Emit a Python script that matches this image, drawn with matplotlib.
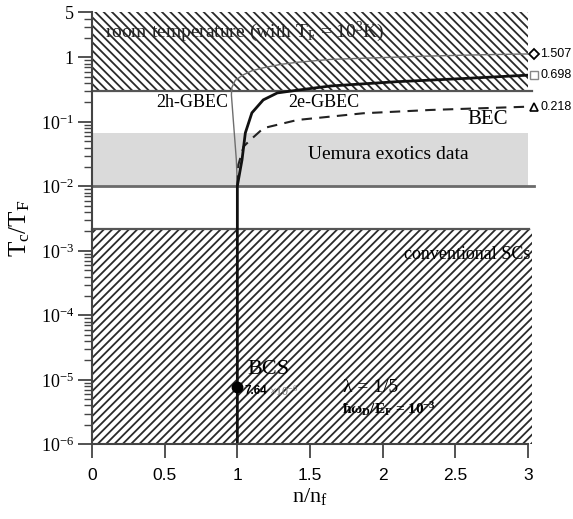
import matplotlib
matplotlib.use("Agg")
import matplotlib.pyplot as plt
from matplotlib.ticker import FixedLocator, LogLocator, NullFormatter

plt.rcParams['font.family'] = ['Liberation Serif', 'DejaVu Serif']
plt.rcParams['mathtext.fontset'] = 'custom'
plt.rcParams['mathtext.rm'] = 'Liberation Serif'
plt.rcParams['mathtext.it'] = 'Liberation Serif:italic'
plt.rcParams['mathtext.bf'] = 'Liberation Serif:bold'
plt.rcParams['hatch.linewidth'] = 1.3

# curves (n/nf, Tc/TF)
n_2e = [1.0, 1.0, 1.032, 1.055, 1.10, 1.178, 1.275, 1.413, 1.64, 2.1, 2.556, 3.0]
tc_2e = [1e-6, 0.0102, 0.0258, 0.0675, 0.138, 0.219, 0.281, 0.31, 0.36, 0.42, 0.47, 0.53]

n_2h = [1.0, 0.993, 0.972, 0.959, 0.962, 0.985, 1.04, 1.10, 1.18, 1.30, 1.413, 1.64, 1.867, 2.33, 2.7, 3.0]
tc_2h = [0.0102, 0.0258, 0.107, 0.262, 0.34, 0.44, 0.535, 0.62, 0.69, 0.78, 0.84, 0.93, 0.97, 1.05, 1.10, 1.13]

n_bec = [1.0, 1.007, 1.043, 1.09, 1.18, 1.413, 1.867, 2.33, 3.0]
tc_bec = [0.0102, 0.0216, 0.0415, 0.0526, 0.080, 0.107, 0.136, 0.153, 0.172]

# limit values marked at the right edge
limit_vals = ['1.507', '0.698', '0.218']

# shaded regions
room_lo, room_hi = 0.3, 5.0
uemura_lo, uemura_hi = 0.01, 0.067
conv_lo, conv_hi = 1e-6, 2.2e-3

bcs_n, bcs_tc = 1.0, 7.64e-6

yticks = [1e-6, 1e-5, 1e-4, 1e-3, 1e-2, 1e-1, 1, 5]
yticklabels = ['10$^{\\mathregular{-6}}$', '10$^{\\mathregular{-5}}$', '10$^{\\mathregular{-4}}$',
               '10$^{\\mathregular{-3}}$', '10$^{\\mathregular{-2}}$', '10$^{\\mathregular{-1}}$', '1', '5']
xticks = [0, 0.5, 1, 1.5, 2, 2.5, 3]
xticklabels = ['0', '0.5', '1', '1.5', '2', '2.5', '3']

fig = plt.figure(figsize=(5.73, 5.19), dpi=100)
ax = fig.add_axes([0.1606, 0.1439, 0.7609, 0.8324])
ax.set_yscale('log')
ax.set_xlim(0, 3)
ax.set_ylim(1e-6, 5)

# regions
room = ax.fill_between([0, 3], room_lo, room_hi, facecolor='none', edgecolor='#2a2a2a',
                       hatch='\\\\\\\\', linewidth=0)
ax.plot([0, 3.03], [room_lo, room_lo], color='#555555', lw=1.6, clip_on=False)
ax.fill_between([0, 3], uemura_lo, uemura_hi, facecolor='#dadada', edgecolor='none', linewidth=0)
ax.plot([0, 3.04], [uemura_lo, uemura_lo], color='#6a6a6a', lw=2, clip_on=False)
conv = ax.fill_between([0, 3.03], conv_lo, conv_hi, facecolor='none', edgecolor='#2a2a2a',
                       hatch='////', linewidth=0)
conv.set_clip_on(False)
ax.plot([0, 3.01], [conv_hi, conv_hi], color='#555555', lw=1.6, clip_on=False)

# curves
ax.plot(n_2h, tc_2h, color='#6e6e6e', lw=1.0)
ax.plot(n_bec, tc_bec, color='#222222', lw=1.5, dashes=(5, 3.5))
ax.plot(n_2e, tc_2e, color='#111111', lw=2.0)

# end markers
ax.plot(3.04, tc_2h[-1], marker='D', ms=5, mfc='white', mec='black', mew=1.3, clip_on=False)
ax.plot(3.04, tc_2e[-1], marker='s', ms=6, mfc='white', mec='#888888', mew=1.0, clip_on=False)
ax.plot(3.04, tc_bec[-1], marker='^', ms=6, mfc='white', mec='black', mew=1.2, clip_on=False)
for v, t in zip([tc_2h[-1], tc_2e[-1], tc_bec[-1]], limit_vals):
    ax.text(3.085, v, t, fontsize=9, family='Liberation Sans', va='center', ha='left')

# BCS point
ax.plot(bcs_n, bcs_tc, 'o', color='black', ms=7.5, clip_on=False)

# labels inside
ax.text(0.09, 2.47, 'room temperature (with T$_{\\mathregular{F}}$ = 10$^{\\mathregular{3}}$K)',
        fontsize=14, va='center', ha='left', color='#222222')
ax.text(0.443, 0.197, '2h-GBEC', fontsize=13, va='center', ha='left')
ax.text(1.351, 0.197, '2e-GBEC', fontsize=13, va='center', ha='left')
ax.text(2.58, 0.107, 'BEC', fontsize=15, va='center', ha='left')
ax.text(1.489, 0.0308, 'Uemura exotics data', fontsize=14, va='center', ha='left')
ax.text(3.016, 8.73e-4, 'conventional SCs', fontsize=13, va='center', ha='right')
ax.text(1.069, 1.45e-5, 'BCS', fontsize=16, va='center', ha='left')
ax.text(1.05, 6.6e-6, '7.64', fontsize=8.5, family='Liberation Sans', weight='bold',
        va='center', ha='left')
ax.text(1.22, 6.6e-6, '\u00d710$^{\\mathregular{-6}}$', fontsize=8.5, color='#777777',
        va='center', ha='left')
ax.text(1.73, 7.6e-6, '\u03bb = 1/5', fontsize=14, va='center', ha='left')
ax.text(1.723, 3.5e-6, '\u0127\u03c9$_{\\mathbf{D}}$/E$_{\\mathbf{F}}$ = 10$^{\\mathbf{-3}}$',
        fontsize=11, weight='bold', va='center', ha='left')

# axes styling
for s in ['top', 'right']:
    ax.spines[s].set_visible(False)
for s in ['left', 'bottom']:
    ax.spines[s].set_color('#444444')
    ax.spines[s].set_linewidth(1.5)

ax.yaxis.set_major_locator(FixedLocator(yticks))
ax.set_yticklabels(yticklabels, family='Liberation Serif')
ax.yaxis.set_minor_locator(LogLocator(base=10, subs=range(2, 10), numticks=30))
ax.yaxis.set_minor_formatter(NullFormatter())
ax.set_xticks(xticks)
ax.set_xticklabels(xticklabels, family='Liberation Sans')
ax.tick_params(axis='both', which='major', direction='out', length=10, width=1.3,
               color='#444444', labelsize=13)
ax.tick_params(axis='y', which='major', pad=3)
ax.tick_params(axis='x', which='major', labelsize=12.5, pad=7)
ax.tick_params(axis='y', which='minor', direction='out', length=5.5, width=1.0, color='#444444')

ax.set_xlabel('n/n$_{\\mathregular{f}}$', fontsize=16, labelpad=2)
ax.set_ylabel('T$_{\\mathregular{c}}$/T$_{\\mathregular{F}}$', fontsize=18, labelpad=6)

fig.savefig('out.png', dpi=100)
